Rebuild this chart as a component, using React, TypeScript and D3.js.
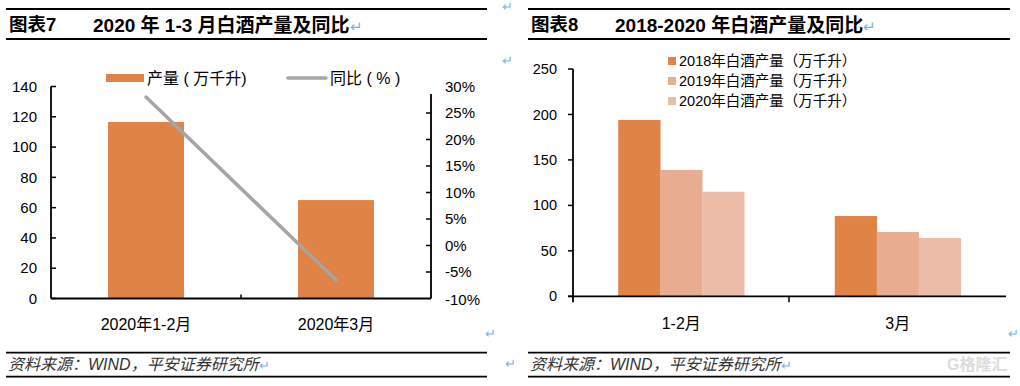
import React from "react";
import * as d3 from "d3";

// ---------- Data ----------
const leftCategories = ["2020年1-2月", "2020年3月"];
const leftOutput = [116.6, 65.0]; // 万千升
const leftYoY = [28.0, -6.5]; // %
const leftYTicks = [0, 20, 40, 60, 80, 100, 120, 140];
const leftY2Ticks = [-10, -5, 0, 5, 10, 15, 20, 25, 30];
const leftLegend = ["产量 ( 万千升)", "同比 ( % )"];

const rightCategories = ["1-2月", "3月"];
const seriesNames = ["2018年白酒产量（万千升）", "2019年白酒产量（万千升）", "2020年白酒产量（万千升）"];
const output2018 = [194, 88.3];
const output2019 = [139, 70.7];
const output2020 = [115, 64.1];
const rightYTicks = [0, 50, 100, 150, 200, 250];

const FONT = "'Liberation Sans', Arial, 'Noto Sans CJK SC', sans-serif";
const ORANGE = "#E08347";
const C2019 = "#E8AC90";
const C2020 = "#EBBDA9";
const GRAY = "#A5A5A5";
const MARK = "#7DB3E8";

function LeftChart() {
  const x = d3.scaleBand<string>().domain(leftCategories).range([51, 431]).padding(0);
  const y = d3.scaleLinear().domain([0, 140]).range([298.5, 86.5]);
  const y2 = d3.scaleLinear().domain([-10, 30]).range([298.5, 86.5]);
  const bw = x.bandwidth() * 0.4;
  const line = d3
    .line<number>()
    .x((_, i) => (x(leftCategories[i]) as number) + x.bandwidth() / 2)
    .y((d) => y2(d));
  return (
    <g>
      {leftCategories.map((c, i) => (
        <rect
          key={c}
          x={(x(c) as number) + x.bandwidth() / 2 - bw / 2}
          y={y(leftOutput[i])}
          width={bw}
          height={y(0) - y(leftOutput[i])}
          fill={ORANGE}
        />
      ))}
      <path d={line(leftYoY) as string} fill="none" stroke={GRAY} strokeWidth={3.5} strokeLinecap="round" />
      {/* left axis */}
      <line x1={51} x2={51} y1={y(140)} y2={y(0)} stroke="#000" strokeWidth={1.8} />
      {leftYTicks.map((t) => (
        <g key={t}>
          <line x1={51} x2={56} y1={y(t)} y2={y(t)} stroke="#000" strokeWidth={1.5} />
          <text x={37} y={y(t)} dy="0.35em" textAnchor="end" fontSize={15} fontFamily={FONT} fill="#000">
            {t}
          </text>
        </g>
      ))}
      {/* right axis */}
      <line x1={431} x2={431} y1={94} y2={y2(-10)} stroke="#000" strokeWidth={1.8} />
      {leftY2Ticks.map((t) => (
        <g key={t}>
          {t > -10 && t < 30 && (
            <line x1={426} x2={431} y1={y2(t)} y2={y2(t)} stroke="#000" strokeWidth={1.5} />
          )}
          <text x={445} y={y2(t) + (t === -10 ? 1 : 0)} dy="0.35em" textAnchor="start" fontSize={15} fontFamily={FONT} fill="#000">
            {t + "%"}
          </text>
        </g>
      ))}
      {/* x axis */}
      <line x1={51} x2={431} y1={y(0)} y2={y(0)} stroke="#000" strokeWidth={1.8} />
      <line x1={241} x2={241} y1={y(0) - 4} y2={y(0)} stroke="#000" strokeWidth={1.5} />
      {leftCategories.map((c) => (
        <text
          key={c}
          x={(x(c) as number) + x.bandwidth() / 2}
          y={324}
          dy="0.35em"
          textAnchor="middle"
          fontSize={16}
          fontFamily={FONT}
          fill="#000"
        >
          {c}
        </text>
      ))}
      {/* legend */}
      <rect x={106} y={74} width={38} height={8} fill={ORANGE} />
      <text x={147} y={78} dy="0.35em" fontSize={16} fontFamily={FONT} fill="#000">
        {leftLegend[0]}
      </text>
      <line x1={288} x2={326} y1={78} y2={78} stroke={GRAY} strokeWidth={3.5} strokeLinecap="round" />
      <text x={330} y={78} dy="0.35em" fontSize={16} fontFamily={FONT} fill="#000">
        {leftLegend[1]}
      </text>
    </g>
  );
}

function RightChart() {
  const x = d3.scaleBand<string>().domain(rightCategories).range([573, 1006]).padding(0);
  const y = d3.scaleLinear().domain([0, 250]).range([296.3, 69]);
  const groupW = x.bandwidth() * 0.582;
  const inner = d3.scaleBand<number>().domain([0, 1, 2]).range([0, groupW]).padding(0);
  const series = [output2018, output2019, output2020];
  const colors = [ORANGE, C2019, C2020];
  return (
    <g>
      {rightCategories.map((c, ci) =>
        series.map((s, si) => (
          <rect
            key={c + si}
            x={(x(c) as number) + x.bandwidth() / 2 - groupW / 2 + (inner(si) as number)}
            y={y(s[ci])}
            width={inner.bandwidth() + 0.3}
            height={y(0) - y(s[ci])}
            fill={colors[si]}
          />
        ))
      )}
      {/* y axis */}
      <line x1={573} x2={573} y1={y(250)} y2={y(0) + 6} stroke="#000" strokeWidth={1.8} />
      {rightYTicks.map((t) => (
        <g key={t}>
          <line x1={568} x2={573} y1={y(t)} y2={y(t)} stroke="#000" strokeWidth={1.5} />
          <text x={557} y={y(t)} dy="0.35em" textAnchor="end" fontSize={14.5} fontFamily={FONT} fill="#000">
            {t}
          </text>
        </g>
      ))}
      {/* x axis */}
      <line x1={568} x2={1006} y1={y(0)} y2={y(0)} stroke="#000" strokeWidth={1.8} />
      <line x1={789} x2={789} y1={y(0)} y2={y(0) + 6} stroke="#000" strokeWidth={1.5} />
      {rightCategories.map((c) => (
        <text
          key={c}
          x={(x(c) as number) + x.bandwidth() / 2}
          y={323}
          dy="0.35em"
          textAnchor="middle"
          fontSize={16}
          fontFamily={FONT}
          fill="#000"
        >
          {c}
        </text>
      ))}
      {/* legend */}
      {seriesNames.map((n, i) => (
        <g key={n}>
          <rect x={668} y={57 + i * 20} width={8} height={8} fill={colors[i]} />
          <text x={679} y={61 + i * 20} dy="0.35em" fontSize={14.5} fontFamily={FONT} fill="#000">
            {n}
          </text>
        </g>
      ))}
    </g>
  );
}

function Frame({ x0, x1, fig, title, srcEnd }: { x0: number; x1: number; fig: string; title: string; srcEnd: number }) {
  return (
    <g>
      <line x1={x0} x2={x1} y1={9} y2={9} stroke="#000" strokeWidth={1.8} />
      <text x={x0 + 3} y={25} dy="0.35em" fontSize={18.5} fontWeight="bold" fontFamily={FONT} fill="#000">
        {fig}
      </text>
      <text x={x0 + 87} y={25} dy="0.35em" fontSize={19} fontWeight="bold" fontFamily={FONT} fill="#000">
        {title}
        <tspan fill={MARK} fontWeight="normal" fontSize={15}>↵</tspan>
      </text>
      <line x1={x0} x2={x1} y1={39} y2={39} stroke="#000" strokeWidth={1.8} />
      <line x1={x0} x2={x1} y1={352.7} y2={352.7} stroke="#000" strokeWidth={1.8} />
      <text x={x0 + 2} y={364} dy="0.35em" fontSize={16} fontStyle="italic" fontFamily={FONT} fill="#333">
        资料来源：WIND，平安证券研究所
        <tspan fill={MARK} fontStyle="normal" fontSize={13}>↵</tspan>
      </text>
      <line x1={x0} x2={x1} y1={376.7} y2={376.7} stroke="#000" strokeWidth={1.8} />
    </g>
  );
}

export default function App() {
  return (
    <svg
      width={1020}
      height={386}
      viewBox="0 0 1020 386"
      style={{ position: "absolute", left: 0, top: 0, background: "#fff" }}
    >
      <rect width={1020} height={386} fill="#fff" />
      <Frame x0={6} x1={487} fig="图表7" title="2020 年 1-3 月白酒产量及同比" srcEnd={258} />
      <Frame x0={528} x1={1010} fig="图表8" title="2018-2020 年白酒产量及同比" srcEnd={779} />
      {/* stray paragraph marks */}
      <text x={502} y={6} dy="0.35em" fontSize={13} fontFamily={FONT} fill={MARK}>↵</text>
      <text x={502} y={60} dy="0.35em" fontSize={13} fontFamily={FONT} fill={MARK}>↵</text>
      <text x={485} y={333} dy="0.35em" fontSize={13} fontFamily={FONT} fill={MARK}>↵</text>
      <text x={1008} y={333} dy="0.35em" fontSize={13} fontFamily={FONT} fill={MARK}>↵</text>
      <text x={505} y={363} dy="0.35em" fontSize={13} fontFamily={FONT} fill={MARK}>↵</text>
      <text x={947} y={364} dy="0.35em" fontSize={16} fontWeight="bold" fontFamily={FONT} fill="#dcdcdc">
        G格隆汇
      </text>
      <LeftChart />
      <RightChart />
    </svg>
  );
}
